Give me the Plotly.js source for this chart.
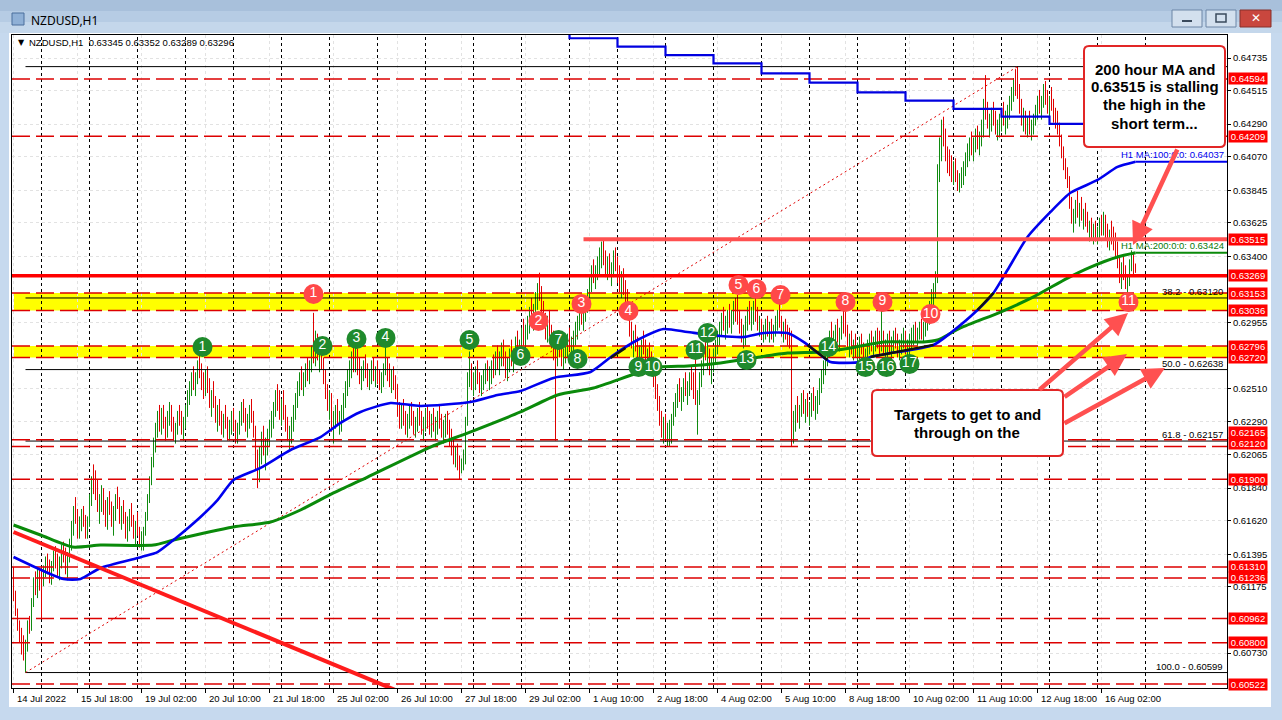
<!DOCTYPE html>
<html><head><meta charset="utf-8">
<script src="https://cdn.plot.ly/plotly-3.0.1.min.js"></script>
<style>html,body{margin:0;padding:0;background:#c6d9ee;overflow:hidden}#chart{width:1282px;height:720px}</style>
</head><body><div id="chart"></div>
<script>
// ---------- DATA (prices in pips, 0.0001) ----------
const firstOpen = 6125;
const H = [
6131,6115,6103,6095,6090,6085,6082,6095,6098,6110,
6124,6128,6130,6130,6131,6132,6138,6140,6136,6135,
6142,6145,6140,6138,6146,6148,6144,6141,6150,6162,
6172,6178,6170,6165,6170,6172,6166,6165,6180,6192,
6200,6196,6190,6180,6186,6184,6176,6178,6182,6175,
6172,6180,6185,6178,6172,6176,6168,6165,6170,6174,
6166,6162,6168,6158,6155,6158,6168,6180,6192,6205,
6218,6228,6236,6240,6238,6240,6232,6236,6242,6240,
6232,6228,6236,6240,6236,6232,6240,6250,6256,6262,
6266,6262,6270,6273,6268,6262,6264,6266,6258,6250,
6256,6246,6240,6244,6236,6234,6240,6232,6230,6236,
6238,6230,6228,6236,6242,6244,6238,6234,6240,6244,
6236,6226,6210,6212,6222,6226,6218,6224,6230,6236,
6242,6250,6254,6250,6244,6250,6240,6232,6226,6232,
6240,6248,6256,6262,6266,6262,6268,6272,6270,6280,
6302,6290,6288,6280,6282,6272,6264,6254,6250,6248,
6236,6240,6244,6236,6240,6248,6256,6264,6270,6276,
6280,6282,6278,6272,6266,6270,6274,6268,6264,6270,
6272,6266,6270,6264,6262,6268,6280,6272,6268,6264,
6266,6260,6254,6242,6240,6244,6236,6234,6240,6242,
6236,6232,6238,6242,6236,6232,6238,6240,6236,6234,
6238,6232,6236,6240,6234,6230,6234,6236,6230,6224,
6218,6212,6214,6206,6204,6210,6232,6262,6276,6268,
6262,6266,6270,6262,6260,6264,6268,6270,6266,6270,
6274,6276,6280,6276,6282,6284,6276,6272,6278,6284,
6278,6286,6290,6284,6292,6298,6294,6300,6306,6312,
6308,6316,6322,6329,6320,6310,6302,6300,6304,6294,
6290,6284,6286,6290,6284,6278,6282,6288,6292,6286,
6290,6296,6300,6306,6310,6306,6312,6318,6326,6334,
6338,6334,6340,6346,6350,6352,6344,6340,6342,6336,
6344,6346,6340,6334,6330,6332,6324,6318,6306,6296,
6290,6294,6286,6280,6284,6290,6284,6278,6282,6276,
6270,6262,6254,6246,6236,6232,6234,6228,6230,6234,
6242,6248,6254,6258,6252,6258,6262,6256,6262,6266,
6262,6276,6250,6262,6270,6280,6288,6282,6278,6272,
6278,6284,6290,6296,6302,6306,6300,6304,6308,6304,
6310,6312,6314,6304,6298,6294,6300,6306,6310,6306,
6310,6312,6306,6300,6298,6294,6298,6300,6296,6298,
6294,6300,6304,6309,6300,6296,6298,6294,6292,6290,
6236,6240,6246,6240,6248,6250,6244,6248,6242,6248,
6252,6246,6250,6258,6264,6270,6276,6282,6290,6296,
6290,6294,6298,6292,6300,6304,6306,6294,6288,6290,
6284,6288,6282,6286,6288,6282,6278,6284,6288,6290,
6286,6290,6292,6290,6304,6290,6284,6288,6290,6286,
6290,6292,6288,6284,6288,6292,6290,6284,6288,6292,
6294,6296,6292,6296,6298,6296,6300,6304,6310,6318,
6322,6330,6402,6420,6432,6434,6426,6414,6412,6408,
6404,6406,6398,6396,6400,6404,6410,6416,6420,6424,
6420,6426,6428,6424,6432,6446,6462,6444,6436,6440,
6444,6438,6432,6436,6440,6444,6438,6442,6448,6454,
6460,6466,6468,6456,6446,6440,6438,6434,6438,6432,
6436,6442,6448,6452,6448,6456,6458,6452,6448,6454,
6446,6440,6438,6430,6422,6414,6406,6400,6394,6380,
6372,6378,6384,6376,6380,6372,6376,6370,6364,6366,
6362,6364,6360,6366,6368,6370,6368,6362,6358,6364,
6360,6356,6350,6340,6336,6340,6334,6328,6338,6344,
6342,6335.2];
const L = [
6108,6098,6088,6080,6072,6068,6060,6074,6086,6088,
6104,6112,6110,6115,6096,6118,6124,6126,6120,6119,
6128,6130,6125,6122,6130,6134,6126,6122,6134,6142,
6152,6160,6150,6150,6155,6158,6150,6150,6158,6172,
6180,6176,6168,6160,6168,6166,6158,6156,6166,6158,
6152,6162,6170,6160,6156,6160,6150,6148,6155,6158,
6150,6146,6152,6144,6142,6142,6152,6162,6174,6186,
6198,6208,6218,6222,6220,6224,6216,6218,6226,6222,
6216,6214,6220,6226,6220,6216,6224,6232,6240,6246,
6250,6246,6254,6258,6250,6244,6246,6248,6238,6232,
6238,6228,6222,6226,6220,6218,6224,6216,6216,6220,
6222,6214,6214,6220,6226,6228,6222,6218,6224,6228,
6218,6196,6184,6188,6200,6206,6196,6206,6212,6218,
6224,6232,6236,6230,6226,6230,6222,6216,6210,6214,
6222,6230,6238,6246,6250,6246,6252,6256,6254,6262,
6268,6266,6270,6262,6264,6254,6244,6236,6230,6222,
6214,6224,6226,6220,6222,6230,6238,6246,6252,6258,
6262,6262,6260,6254,6250,6256,6258,6252,6250,6254,
6256,6252,6254,6250,6248,6252,6260,6256,6252,6248,
6250,6244,6232,6224,6224,6226,6220,6218,6224,6226,
6220,6218,6222,6226,6220,6216,6222,6224,6220,6218,
6222,6216,6220,6224,6218,6214,6218,6220,6212,6206,
6200,6198,6196,6190,6194,6196,6200,6226,6252,6250,
6246,6250,6254,6248,6246,6250,6254,6256,6250,6254,
6258,6260,6264,6260,6266,6266,6258,6256,6262,6266,
6262,6270,6274,6268,6276,6280,6278,6284,6288,6294,
6290,6298,6304,6310,6300,6292,6284,6282,6286,6278,
6270,6216,6266,6272,6266,6264,6268,6272,6276,6270,
6274,6280,6284,6290,6294,6290,6296,6302,6308,6316,
6322,6318,6324,6328,6332,6334,6326,6324,6326,6320,
6326,6330,6322,6316,6312,6314,6306,6298,6286,6278,
6272,6276,6268,6264,6268,6274,6266,6262,6266,6260,
6252,6244,6236,6226,6218,6214,6216,6212,6212,6214,
6226,6232,6238,6242,6236,6242,6246,6240,6246,6250,
6244,6240,6220,6240,6252,6260,6270,6264,6260,6254,
6262,6268,6274,6280,6286,6290,6284,6288,6292,6288,
6294,6296,6294,6288,6282,6278,6280,6290,6294,6290,
6294,6296,6290,6286,6284,6282,6284,6286,6282,6284,
6282,6286,6290,6292,6286,6282,6284,6280,6278,6212,
6214,6222,6228,6224,6232,6234,6228,6232,6226,6232,
6236,6230,6234,6240,6248,6254,6260,6266,6272,6278,
6274,6278,6282,6276,6284,6288,6286,6278,6272,6274,
6270,6272,6268,6270,6274,6268,6266,6270,6274,6276,
6272,6276,6278,6274,6276,6274,6268,6272,6274,6270,
6276,6278,6272,6270,6274,6278,6274,6270,6272,6278,
6280,6282,6280,6284,6284,6282,6286,6290,6294,6300,
6306,6312,6322,6390,6404,6414,6404,6396,6394,6390,
6388,6390,6384,6383,6386,6388,6394,6400,6404,6408,
6404,6410,6412,6408,6414,6420,6432,6426,6420,6424,
6428,6422,6418,6420,6424,6428,6422,6426,6432,6438,
6444,6448,6446,6436,6428,6424,6422,6420,6422,6418,
6422,6428,6432,6436,6432,6440,6442,6436,6432,6438,
6430,6426,6422,6414,6406,6398,6392,6386,6372,6362,
6356,6362,6366,6360,6364,6358,6360,6356,6350,6352,
6348,6350,6348,6352,6354,6354,6352,6346,6344,6348,
6344,6340,6332,6322,6318,6324,6318,6315,6320,6330,
6328,6328.9];
const C = [
6112,6100,6090,6084,6078,6075,6078,6092,6090,6108,
6120,6116,6126,6122,6120,6128,6134,6130,6124,6132,
6138,6134,6128,6135,6142,6138,6130,6138,6147,6158,
6168,6164,6156,6160,6166,6162,6154,6162,6176,6188,
6184,6180,6172,6176,6180,6170,6162,6174,6168,6160,
6168,6176,6172,6164,6168,6162,6156,6160,6166,6162,
6154,6158,6150,6148,6152,6156,6166,6178,6190,6202,
6214,6224,6232,6226,6234,6228,6222,6232,6236,6226,
6220,6224,6232,6230,6224,6228,6236,6246,6252,6258,
6254,6260,6266,6262,6254,6248,6260,6252,6242,6246,
6240,6232,6236,6230,6224,6230,6228,6222,6226,6232,
6226,6220,6224,6232,6238,6232,6226,6230,6236,6232,
6222,6200,6190,6208,6218,6210,6214,6220,6226,6232,
6238,6246,6240,6234,6238,6236,6226,6220,6222,6228,
6236,6244,6252,6258,6256,6260,6264,6262,6266,6276,
6272,6286,6274,6278,6268,6258,6248,6240,6246,6226,
6232,6236,6230,6232,6238,6244,6252,6260,6266,6272,
6268,6276,6264,6258,6262,6266,6262,6256,6260,6266,
6260,6262,6258,6254,6258,6264,6268,6262,6256,6260,
6254,6248,6236,6228,6236,6230,6226,6230,6236,6230,
6224,6228,6234,6232,6226,6228,6234,6230,6224,6230,
6226,6228,6232,6228,6222,6226,6230,6224,6216,6210,
6204,6208,6200,6196,6202,6206,6228,6258,6264,6254,
6258,6262,6258,6254,6256,6260,6264,6260,6262,6266,
6262,6272,6268,6274,6278,6270,6264,6268,6274,6270,
6276,6282,6278,6280,6288,6284,6290,6296,6302,6298,
6304,6312,6318,6314,6304,6296,6290,6296,6290,6284,
6276,6272,6282,6276,6272,6274,6278,6284,6280,6282,
6286,6292,6296,6302,6298,6304,6308,6314,6322,6330,
6326,6330,6336,6340,6344,6338,6330,6336,6330,6332,
6340,6334,6326,6320,6324,6318,6310,6302,6290,6282,
6286,6280,6272,6276,6280,6278,6270,6274,6268,6264,
6256,6248,6240,6230,6224,6228,6220,6224,6226,6232,
6238,6244,6250,6246,6248,6254,6250,6252,6258,6254,
6248,6244,6246,6258,6266,6276,6274,6278,6264,6268,
6274,6280,6286,6292,6298,6294,6296,6300,6296,6300,
6306,6300,6298,6292,6286,6290,6296,6302,6298,6304,
6306,6300,6294,6296,6288,6290,6294,6290,6292,6288,
6290,6296,6300,6296,6290,6292,6288,6286,6284,6222,
6230,6236,6232,6236,6244,6238,6240,6236,6238,6244,
6240,6242,6246,6254,6260,6266,6272,6278,6286,6282,
6286,6290,6286,6288,6296,6292,6290,6282,6284,6278,
6280,6276,6278,6282,6278,6272,6276,6280,6284,6280,
6282,6286,6282,6278,6284,6278,6280,6284,6278,6282,
6286,6282,6278,6280,6284,6288,6278,6280,6284,6288,
6290,6286,6290,6292,6288,6294,6296,6300,6306,6314,
6318,6326,6396,6412,6424,6420,6410,6402,6398,6396,
6400,6394,6390,6392,6396,6400,6406,6412,6416,6412,
6418,6422,6416,6420,6428,6440,6438,6430,6432,6436,
6432,6426,6428,6432,6436,6432,6434,6438,6444,6450,
6456,6452,6450,6440,6432,6436,6426,6430,6426,6428,
6434,6438,6444,6440,6446,6452,6446,6440,6444,6442,
6436,6432,6426,6418,6410,6402,6396,6390,6376,6366,
6368,6374,6370,6372,6366,6368,6364,6360,6360,6356,
6358,6354,6356,6362,6358,6362,6356,6350,6354,6352,
6348,6344,6336,6326,6332,6328,6322,6324,6334,6340,
6334.5,6329.6];

// 100-hour MA (blue) and 200-hour MA (green): bar index / value (pips)
const ma100X = [0,25,33.5,43.5,64,72,80,93.5,102,110,123.5,138.5,153.5,163.5,173.5,188.5,203.5,228.5,242,253.5,270,288.5,300,312,325,337,353.5,365,375,387,395,403.5,408.5,423.5,428.5,460,468.5,482,490,497,507,518.5,528.5,542,552,561];
const ma100V = [6137.7,6122.9,6122.9,6130.3,6137.7,6141.0,6149.1,6164.6,6176.0,6189.5,6197.6,6209.7,6218.4,6227.9,6235.3,6241.3,6239.3,6242.0,6246.7,6249.4,6258.2,6262.2,6273.6,6283.7,6291.1,6289.1,6286.4,6285.7,6288.4,6288.4,6282.4,6273.6,6268.9,6268.9,6272.3,6280.4,6288.4,6303.9,6315.4,6330.8,6353.0,6369.9,6382.8,6391.4,6400.2,6403.7];
const ma200X = [0,13.5,29.5,43.5,70,80,110,128.5,143.5,160,177,208.5,227,253.5,272,290,312,323.5,337,353.5,370,387,403.5,418.5,435,455,462,473.5,493.5,510,527,538.5,552,561];
const ma200V = [6159.2,6152.5,6144.4,6145.7,6145.7,6149.1,6157.9,6161.2,6169.3,6180.8,6191.5,6211.7,6221.1,6235.3,6246.7,6251.4,6261.5,6265.5,6266.2,6268.2,6271.6,6274.9,6275.6,6278.3,6282.4,6282.4,6283.7,6291.8,6302.5,6312.7,6325.4,6332.8,6339.6,6342.4];
// short black MA pieces visible where they leave the blue line (bar / value, null = gap)
const blackMaX = [298.5,306,null,397,407,null,428.5,460,null,482,490];
const blackMaV = [6271.6,6278.3,null,6280.4,6270.3,null,6272.3,6280.4,null,6303.9,6315.4];
// stepped daily MA at the top (start bar of each day / value)
const dayMaX = [254,278,302,326,350,374,398,422,446,470,494,518,542,561];
const dayMaV = [6494,6486.8,6481.1,6475.5,6469.9,6463.2,6456.9,6450.4,6444.8,6439.2,6434.0,6429.1,6425,6425];

const timeLabels = ["14 Jul 2022","15 Jul 18:00","19 Jul 02:00","20 Jul 10:00","21 Jul 18:00","25 Jul 02:00","26 Jul 10:00","27 Jul 18:00","29 Jul 02:00","1 Aug 10:00","2 Aug 18:00","4 Aug 02:00","5 Aug 10:00","8 Aug 18:00","10 Aug 02:00","11 Aug 10:00","12 Aug 18:00","16 Aug 02:00"];
const timeTickBars = [0,32,64,96,128,160,192,224,256,288,320,352,384,416,448,480,512,544];
const priceTicks = [0.64735,0.64515,0.64290,0.64070,0.63845,0.63625,0.63400,0.62955,0.62510,0.62290,0.62065,0.61840,0.61620,0.61395,0.61175,0.60730];
const daySepBars = [14,38,62,86,110,134,158,182,206,230,254,278,302,326,350,374,398,422,446,470,494,518,542,566];

const dashedLevels = [0.64594,0.64209,0.63153,0.63036,0.62796,0.62720,0.62165,0.62120,0.61900,0.61310,0.61236,0.60962,0.60800,0.60522];
const solidLevel = 0.63269;
const rayLevel = 0.63515, rayStartBar = 285;
const labelLevels = [0.64594,0.64209,0.63515,0.63269,0.63153,0.63036,0.62796,0.62720,0.62165,0.62120,0.61900,0.61310,0.61236,0.60962,0.60800,0.60522];
const labelShift = {"0.62165":7,"0.62120":3};
const yellowBands = [[0.63036,0.63153],[0.62720,0.62796]];

const fibPct = ["0.0","38.2","50.0","61.8","100.0"];
const fibVals = [0.64677,0.63120,0.62638,0.62157,0.60599];
const fibLowBar = 6, fibHighBar = 502;
const trendX = [0,200], trendY = [0.61545,0.60431];

const redNums = ["1","2","3","4","5","6","7","8","9","10","11"];
const redX = [150,262.5,284,307.5,362.5,371.5,383.5,416,434.5,458.5,557.5];
const redY = [6314.7,6296.5,6308.0,6303.2,6320.7,6318.0,6314.0,6309.3,6309.3,6301.2,6309.3];
const greenNums = ["1","2","3","4","5","6","7","8","9","10","11","12","13","14","15","16","17"];
const greenX = [94.5,154.5,171.5,186,228,253.5,272.5,282,312.5,319.5,341,347,366.5,407.5,426,436.5,448];
const greenY = [6279.0,6279.7,6284.4,6285.1,6283.7,6273.0,6283.7,6270.9,6265.5,6265.5,6277.0,6288.4,6270.3,6279.0,6265.5,6265.5,6267.6];

const headerText = "NZDUSD,H1\u00a0\u00a00.63345 0.63352 0.63289 0.63296";
const box1Lines = ["200 hour MA and","0.63515 is stalling","the high in the","short term..."];
const box2Lines = ["Targets to get to and","through on the"];

// ---------- BUILD ----------
const P = v => v/10000;
const PL=12, PR=1227, PT=35, PB=688;
const px = X => (X-PL)/(PR-PL);
const py = Y => (PB-Y)/(PB-PT);
const XMIN=-0.75, XMAX=606.75;
const FONT = "Liberation Sans, Arial, sans-serif";

const n = Math.min(H.length,L.length,C.length);
const upX=[],upY=[],dnX=[],dnY=[];
let prev = firstOpen;
for(let i=0;i<n;i++){
  const up = C[i] >= prev;
  (up?upX:dnX).push(i,i,null);
  (up?upY:dnY).push(P(L[i]),P(H[i]),null);
  prev = C[i];
}
const lvX=[],lvY=[];
dashedLevels.forEach(v=>{lvX.push(XMIN,XMAX,null);lvY.push(v,v,null);});
const fbX=[],fbY=[];
fibVals.forEach(v=>{fbX.push(fibLowBar,XMAX,null);fbY.push(v,v,null);});

const traces = [
 {x:dnX,y:dnY,mode:'lines',line:{color:'#e00000',width:1},hoverinfo:'skip'},
 {x:upX,y:upY,mode:'lines',line:{color:'#108a10',width:1},hoverinfo:'skip'},
 {x:fbX,y:fbY,mode:'lines',line:{color:'#000',width:1},hoverinfo:'skip'},
 {x:[fibLowBar,fibHighBar],y:[fibVals[4],fibVals[0]],mode:'lines',line:{color:'#e00000',width:1,dash:'2px,3px'},hoverinfo:'skip'},
 {x:lvX,y:lvY,mode:'lines',line:{color:'#dd0000',width:1.5,dash:'18px,6px'},hoverinfo:'skip'},
 {x:dayMaX,y:dayMaV.map(P),mode:'lines',line:{color:'#0000e0',width:2.2,shape:'hv'},hoverinfo:'skip'},
 {x:ma200X,y:ma200V.map(P),mode:'lines',line:{color:'#0a8a0a',width:3,shape:'spline',smoothing:0.6},hoverinfo:'skip'},
 {x:ma100X,y:ma100V.map(P),mode:'lines',line:{color:'#0000ee',width:2.6,shape:'spline',smoothing:0.6},hoverinfo:'skip'},
 {x:blackMaX,y:blackMaV.map(v=>v===null?null:P(v)),mode:'lines',connectgaps:false,line:{color:'#111',width:2.4},hoverinfo:'skip'},
 {x:[ma100X[ma100X.length-1],XMAX],y:[P(ma100V[ma100V.length-1]),P(ma100V[ma100V.length-1])],mode:'lines',line:{color:'#0000ee',width:2},hoverinfo:'skip'},
 {x:[ma200X[ma200X.length-1],XMAX],y:[P(ma200V[ma200V.length-1]),P(ma200V[ma200V.length-1])],mode:'lines',line:{color:'#0a8a0a',width:2},hoverinfo:'skip'},
 {x:[XMIN,XMAX],y:[solidLevel,solidLevel],mode:'lines',line:{color:'#ff0000',width:3.5},hoverinfo:'skip'},
 {x:[rayStartBar,XMAX],y:[rayLevel,rayLevel],mode:'lines',line:{color:'#ff5050',width:4},hoverinfo:'skip'},
 {x:trendX,y:trendY,mode:'lines',line:{color:'#ff1c1c',width:4},hoverinfo:'skip'},
 {x:redX,y:redY.map(P),mode:'markers+text',text:redNums,textposition:'middle center',
  marker:{size:20,color:'#ff4848',line:{width:0}},textfont:{color:'#fff',size:14,family:FONT},hoverinfo:'skip'},
 {x:greenX,y:greenY.map(P),mode:'markers+text',text:greenNums,textposition:'middle center',
  marker:{size:20,color:'#1f8a2c',line:{width:0}},textfont:{color:'#fff',size:14,family:FONT},hoverinfo:'skip'}
];

// shapes
const shapes = [];
const rectPx = (x0,y0,x1,y1,fill,line,lw,layer)=>({type:'rect',xref:'paper',yref:'paper',x0:px(x0),x1:px(x1),y0:py(y1),y1:py(y0),fillcolor:fill,line:{color:line||fill,width:lw||0},layer:layer||'below'});
shapes.push(rectPx(0,0,1282,33,'#b6cce4',null,0));
shapes.push(rectPx(0,0,1282,11,'#a8c0db',null,0));
shapes.push(rectPx(0,22,1282,33,'#c4d7eb',null,0));
shapes.push(rectPx(9,33,1271,707,'#ffffff',null,0));
shapes.push(rectPx(12,13,24,25,'#8fb0d6','#4a6f9c',1));
// buttons
shapes.push(rectPx(1172,10,1202,27,'#d3e0ee','#6d86a6',1,'above'));
shapes.push(rectPx(1206,10,1236,27,'#d3e0ee','#6d86a6',1,'above'));
shapes.push(rectPx(1240,10,1271,27,'#c9473e','#86302a',1,'above'));
shapes.push(rectPx(1182,20,1192,22,'#3a4a5c',null,0,'above'));
shapes.push(rectPx(1216,14,1226,22,'rgba(0,0,0,0)','#3a4a5c',1.5,'above'));
// yellow bands
yellowBands.forEach(b=>shapes.push({type:'rect',xref:'paper',yref:'y',x0:px(14),x1:1,y0:b[0],y1:b[1],fillcolor:'#ffff00',line:{width:0},layer:'below'}));
// period separators
daySepBars.forEach(b=>shapes.push({type:'line',xref:'x',yref:'paper',x0:b,x1:b,y0:0,y1:1,line:{color:'#000',width:1,dash:'3px,3px'},layer:'below'}));
// rounded text boxes
function rr(x0,y0,x1,y1,r){
  const X=px, Y=py;
  return `M${X(x0+r)},${Y(y0)} L${X(x1-r)},${Y(y0)} Q${X(x1)},${Y(y0)} ${X(x1)},${Y(y0+r)} L${X(x1)},${Y(y1-r)} Q${X(x1)},${Y(y1)} ${X(x1-r)},${Y(y1)} L${X(x0+r)},${Y(y1)} Q${X(x0)},${Y(y1)} ${X(x0)},${Y(y1-r)} L${X(x0)},${Y(y0+r)} Q${X(x0)},${Y(y0)} ${X(x0+r)},${Y(y0)} Z`;
}
shapes.push({type:'path',xref:'paper',yref:'paper',path:rr(1084,46,1225,147,5),fillcolor:'#fff',line:{color:'#e22626',width:2},layer:'above'});
shapes.push({type:'path',xref:'paper',yref:'paper',path:rr(872,390,1063,456,5),fillcolor:'#fff',line:{color:'#e22626',width:2},layer:'above'});

// annotations
const ann = [];
const T = (x,y,text,opt)=>Object.assign({xref:'paper',yref:'paper',x:px(x),y:py(y),text:text,showarrow:false,font:{family:FONT,size:9.5,color:'#000'},xanchor:'left',yanchor:'middle'},opt||{});
ann.push(T(29,21,'NZDUSD,H1',{font:{family:'Noto Sans, sans-serif',size:12,color:'#000'}}));
ann.push(T(1255.5,18.5,'✕',{xanchor:'center',font:{family:'DejaVu Sans',size:12,color:'#fff'}}));
ann.push(T(16,43,'▼',{font:{family:'DejaVu Sans',size:8,color:'#000'}}));
ann.push(T(27,43,headerText));
timeLabels.forEach((t,k)=>ann.push({xref:'x',yref:'paper',x:timeTickBars[k],y:0,yshift:-3,xshift:1,text:t,showarrow:false,xanchor:'left',yanchor:'top',font:{family:FONT,size:9.5,color:'#000'}}));
// fib labels
fibPct.forEach((p,k)=>{ if(k===0) return; ann.push({xref:'paper',yref:'y',x:px(1225),y:fibVals[k],text:p+' - '+fibVals[k].toFixed(5),showarrow:false,xanchor:'right',yanchor:'bottom',yshift:-1,font:{family:FONT,size:9.5,color:'#000'}}); });
// MA labels
ann.push({xref:'paper',yref:'y',x:px(1226),y:P(ma100V[ma100V.length-1]),text:'H1 MA:100:0:0: '+P(ma100V[ma100V.length-1]).toFixed(5),showarrow:false,xanchor:'right',yanchor:'bottom',font:{family:FONT,size:9.5,color:'#0000ee'}});
ann.push({xref:'paper',yref:'y',x:px(1226),y:P(ma200V[ma200V.length-1]),text:'H1 MA:200:0:0: '+P(ma200V[ma200V.length-1]).toFixed(5),showarrow:false,xanchor:'right',yanchor:'bottom',font:{family:FONT,size:9.5,color:'#0a7a0a'}});
// red price labels
labelLevels.forEach(v=>ann.push({xref:'paper',yref:'y',x:px(1228),y:v,yshift:labelShift[v.toFixed(5)]||0,text:v.toFixed(5),showarrow:false,xanchor:'left',yanchor:'middle',bgcolor:'#ff0000',width:38,height:11,borderpad:0,font:{family:FONT,size:9.5,color:'#fff'}}));
// box texts
const B = {family:FONT,size:15,color:'#000'};
box1Lines.forEach((t,k)=>ann.push(T(1154.5,69+k*18,'<b>'+t+'</b>',{xanchor:'center',font:B})));
box2Lines.forEach((t,k)=>ann.push(T(967,414+k*18,'<b>'+t+'</b>',{xanchor:'center',font:B})));
// arrows
const AR = (hx,hy,tx,ty)=>({xref:'paper',yref:'paper',x:px(hx),y:py(hy),ax:tx-hx,ay:ty-hy,text:'',showarrow:true,arrowhead:2,arrowsize:1,arrowwidth:4.5,arrowcolor:'#ff5050'});
ann.push(AR(1133,245,1178,148));
ann.push(AR(1128,313,1038,391));
ann.push(AR(1127,354,1063,398));
ann.push(AR(1165,368,1063,424));

const layout = {
  width:1282,height:720,
  margin:{l:PL,r:1282-PR,t:PT,b:720-PB,pad:0},
  paper_bgcolor:'#c6d9ee',plot_bgcolor:'#ffffff',
  showlegend:false,hovermode:false,dragmode:false,
  font:{family:FONT,size:9.5,color:'#000'},
  xaxis:{range:[XMIN,XMAX],showline:true,mirror:true,linecolor:'#000',linewidth:1,
    tickvals:timeTickBars,showticklabels:false,ticks:'outside',ticklen:4,tickcolor:'#000',
    showgrid:true,gridcolor:'#e2e2e2',griddash:'dot',zeroline:false,fixedrange:true},
  yaxis:{range:[0.604951,0.648898],side:'right',showline:true,mirror:true,linecolor:'#000',linewidth:1,
    tickvals:priceTicks,ticktext:priceTicks.map(v=>v.toFixed(5)),ticks:'outside',ticklen:3,tickcolor:'#000',
    tickfont:{family:FONT,size:9.5,color:'#000'},
    showgrid:true,gridcolor:'#e2e2e2',griddash:'dot',zeroline:false,fixedrange:true},
  shapes:shapes,annotations:ann
};
Plotly.newPlot('chart',traces,layout,{staticPlot:true,displayModeBar:false});
</script></body></html>
